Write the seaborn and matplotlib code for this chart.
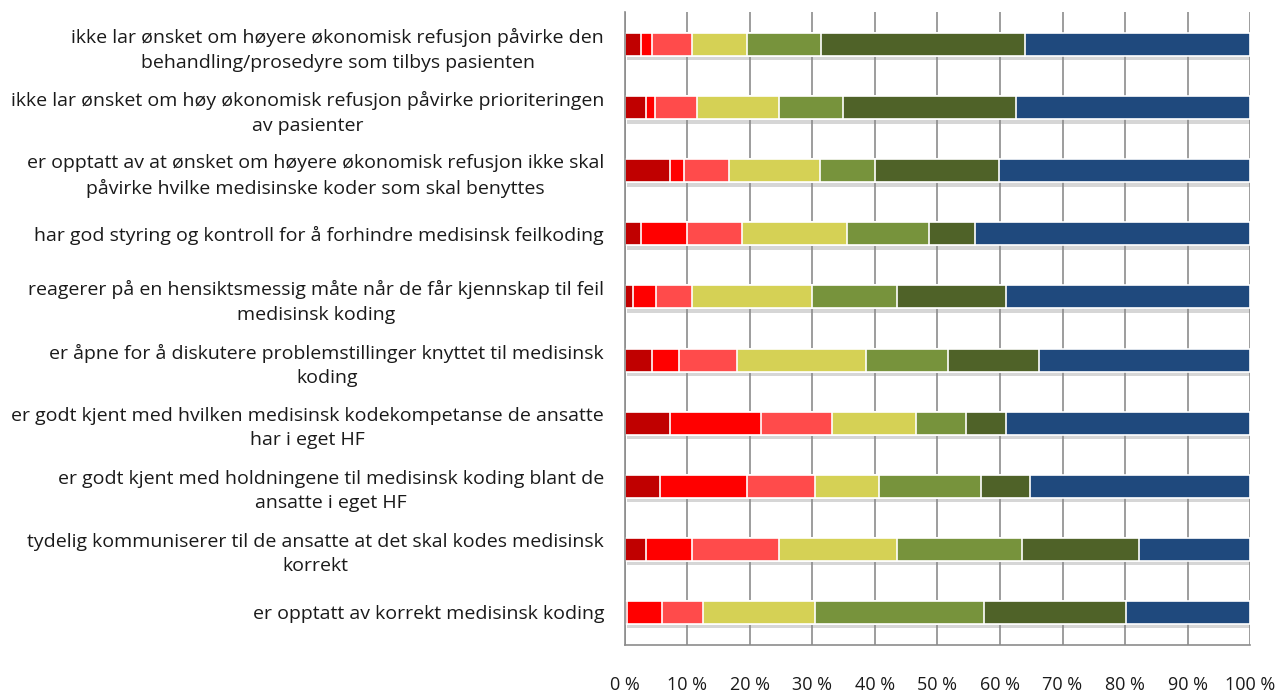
import numpy as np
import pandas as pd
import matplotlib
matplotlib.use("Agg")
import matplotlib.pyplot as plt
import matplotlib.patheffects as pe
import seaborn as sns

# Statements (one bar each, top to bottom)
statements = [
    "ikke lar ønsket om høyere økonomisk refusjon påvirke den\nbehandling/prosedyre som tilbys pasienten",
    "ikke lar ønsket om høy økonomisk refusjon påvirke prioriteringen\nav pasienter",
    "er opptatt av at ønsket om høyere økonomisk refusjon ikke skal\npåvirke hvilke medisinske koder som skal benyttes",
    "har god styring og kontroll for å forhindre medisinsk feilkoding",
    "reagerer på en hensiktsmessig måte når de får kjennskap til feil\nmedisinsk koding",
    "er åpne for å diskutere problemstillinger knyttet til medisinsk\nkoding",
    "er godt kjent med hvilken medisinsk kodekompetanse de ansatte\nhar i eget HF",
    "er godt kjent med holdningene til medisinsk koding blant de\nansatte i eget HF",
    "tydelig kommuniserer til de ansatte at det skal kodes medisinsk\nkorrekt",
    "er opptatt av korrekt medisinsk koding",
]

# Share of answers (%) per response level, level 1 (left) to level 7 (right)
level_1 = [2.6, 3.4, 7.2, 2.6, 1.3, 4.3, 7.2, 5.6, 3.4, 0.4]
level_2 = [1.7, 1.4, 2.2, 7.3, 3.6, 4.3, 14.5, 14.0, 7.3, 5.5]
level_3 = [6.5, 6.7, 7.3, 8.9, 5.9, 9.4, 11.5, 10.8, 14.0, 6.6]
level_4 = [8.8, 13.2, 14.5, 16.7, 19.1, 20.5, 13.4, 10.2, 18.9, 17.9]
level_5 = [11.7, 10.2, 8.8, 13.2, 13.7, 13.2, 8.0, 16.3, 19.9, 27.1]
level_6 = [32.7, 27.7, 19.8, 7.3, 17.4, 14.5, 6.4, 7.9, 18.8, 22.6]
level_7 = [36.0, 37.4, 40.2, 44.0, 39.0, 33.8, 39.0, 35.2, 17.7, 19.9]

levels = [level_1, level_2, level_3, level_4, level_5, level_6, level_7]
level_colors = ["#C00000", "#FF0000", "#FF4B4B", "#D5D155",
                "#77933C", "#4F6228", "#1F497D"]

tick_values = list(range(0, 101, 10))
tick_labels = [f"{v} %" for v in tick_values]

df = pd.DataFrame({"statement": statements})
cum = np.cumsum(np.array(levels), axis=0)

sns.set_theme(style="white")
plt.rcParams["font.family"] = ["Open Sans", "DejaVu Sans"]

fig = plt.figure(figsize=(12.83, 6.91), dpi=100)
ax = fig.add_axes([0.4871, 0.0666, 0.4872, 0.916])

# Stacked bars: draw cumulative totals from the right-most level inwards
for i in reversed(range(len(levels))):
    df["end"] = cum[i]
    n_before = len(ax.patches)
    sns.barplot(data=df, x="end", y="statement", orient="h", color=level_colors[i],
                width=0.365, edgecolor="white", linewidth=1.2, saturation=1,
                ax=ax)
    if i == len(levels) - 1:
        for p in ax.patches[n_before:]:
            p.set_path_effects([
                pe.SimplePatchShadow(offset=(1.5, -3), shadow_rgbFace="#8a8a8a", alpha=0.35),
                pe.Normal(),
            ])

ax.set_xlim(0, 100)
ax.set_ylim(9.52, -0.52)
ax.set_xticks(tick_values)
ax.set_xticklabels(tick_labels)
ax.set_xlabel("")
ax.set_ylabel("")

ax.set_axisbelow(True)
ax.grid(axis="x", color="#8c8c8c", linewidth=1.2)
ax.grid(axis="y", visible=False)
for side in ["top", "right"]:
    ax.spines[side].set_visible(False)
for side in ["left", "bottom"]:
    ax.spines[side].set_color("#8c8c8c")
    ax.spines[side].set_linewidth(1.2)

ax.tick_params(axis="x", length=0, pad=22, labelsize=13, labelcolor="#1a1a1a")
ax.tick_params(axis="y", length=0, pad=15, labelsize=14, labelcolor="#1a1a1a")
for lbl in ax.get_yticklabels():
    lbl.set_multialignment("center")
    lbl.set_linespacing(1.45)

fig.savefig("out.png", dpi=100)
